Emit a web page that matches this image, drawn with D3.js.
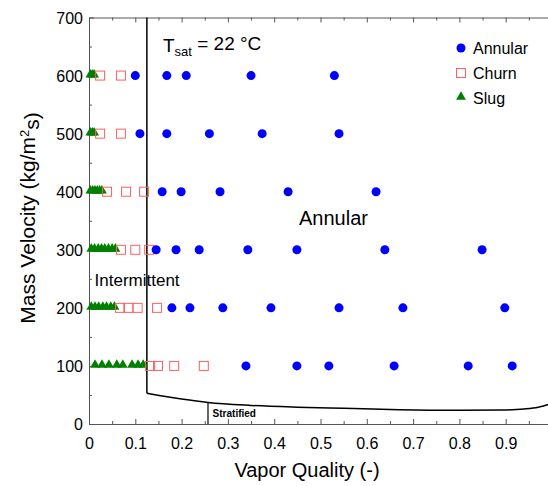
<!DOCTYPE html>
<html>
<head>
<meta charset="utf-8">
<script src="https://cdn.jsdelivr.net/npm/d3@7"></script>
<style>
  body { margin: 0; background: #fff; }
  svg { font-family: "Liberation Sans", Arial, sans-serif; }
</style>
</head>
<body>
<div id="chart"></div>
<script>
// flow regime data: [vapor quality, mass velocity]
var annular = [
  [0.10, 600], [0.168, 600], [0.21, 600], [0.35, 600], [0.53, 600],
  [0.11, 500], [0.168, 500], [0.26, 500], [0.374, 500], [0.54, 500],
  [0.158, 400], [0.199, 400], [0.283, 400], [0.43, 400], [0.62, 400],
  [0.145, 300], [0.188, 300], [0.238, 300], [0.343, 300], [0.449, 300], [0.639, 300], [0.849, 300],
  [0.179, 200], [0.218, 200], [0.289, 200], [0.393, 200], [0.54, 200], [0.678, 200], [0.898, 200],
  [0.339, 100], [0.449, 100], [0.518, 100], [0.659, 100], [0.819, 100], [0.914, 100]
];
var churn = [
  [0.024, 600], [0.069, 600],
  [0.024, 500], [0.069, 500],
  [0.039, 400], [0.08, 400], [0.119, 400],
  [0.069, 300], [0.10, 300], [0.13, 300],
  [0.067, 200], [0.085, 200], [0.105, 200], [0.147, 200],
  [0.132, 100], [0.149, 100], [0.184, 100], [0.248, 100]
];
var slug = [
  [0.003, 600], [0.007, 600], [0.011, 600],
  [0.003, 500], [0.007, 500], [0.011, 500],
  [0.003, 400], [0.008, 400], [0.013, 400], [0.018, 400], [0.023, 400], [0.028, 400],
  [0.005, 300], [0.012, 300], [0.02, 300], [0.027, 300], [0.034, 300], [0.042, 300], [0.05, 300], [0.057, 300],
  [0.005, 200], [0.013, 200], [0.021, 200], [0.03, 200], [0.038, 200], [0.047, 200], [0.055, 200],
  [0.013, 100], [0.028, 100], [0.043, 100], [0.060, 100], [0.073, 100], [0.093, 100], [0.106, 100], [0.117, 100]
];
// transition boundaries
var intermittentLine = [[0.125, 700], [0.125, 53]];
var stratifiedCurve = [
  [0.125, 53], [0.2, 43], [0.257, 37], [0.35, 32], [0.45, 29], [0.55, 27],
  [0.67, 24.5], [0.8, 23.5], [0.89, 24], [0.94, 26], [0.97, 29], [0.99, 33], [1.0, 36]
];
var stratifiedLine = [[0.257, 37], [0.257, 0]];
var xTicks = [0, 0.1, 0.2, 0.3, 0.4, 0.5, 0.6, 0.7, 0.8, 0.9];
var yTicks = [0, 100, 200, 300, 400, 500, 600, 700];
var legendItems = ["Annular", "Churn", "Slug"];

var width = 548, height = 486;
var margin = {left: 89, top: 17.5, bottom: 62};

var svg = d3.select("#chart").append("svg")
    .attr("width", width)
    .attr("height", height);

var x = d3.scaleLinear().domain([0, 1]).range([margin.left, margin.left + 463]);
var y = d3.scaleLinear().domain([0, 700]).range([height - margin.bottom, margin.top]);

var axisColor = "#555";

// minor ticks
var xMinor = d3.range(0.05, 1.0, 0.1);
var yMinor = d3.range(50, 700, 100);

function drawAxis(g) {
    g.selectAll("path").attr("stroke", axisColor);
    g.selectAll("line").attr("stroke", axisColor);
    g.selectAll("text").attr("fill", "#000").style("font-size", "16px");
}

// bottom
svg.append("g")
    .attr("transform", "translate(0," + y(0) + ")")
    .call(d3.axisBottom(x).tickValues(xTicks).tickSizeInner(-5).tickSizeOuter(0).tickPadding(14)
        .tickFormat(function(d) { return d === 0 ? "0" : d3.format(".1f")(d); }))
    .call(drawAxis);
svg.append("g")
    .attr("transform", "translate(0," + y(0) + ")")
    .call(d3.axisBottom(x).tickValues(xMinor).tickSize(-3).tickFormat(""))
    .call(function(g) { g.select(".domain").remove(); })
    .call(drawAxis);
// top
svg.append("g")
    .attr("transform", "translate(0," + y(700) + ")")
    .call(d3.axisTop(x).tickValues(xTicks).tickSizeInner(-5).tickSizeOuter(0).tickFormat(""))
    .call(drawAxis);
svg.append("g")
    .attr("transform", "translate(0," + y(700) + ")")
    .call(d3.axisTop(x).tickValues(xMinor).tickSize(-3).tickFormat(""))
    .call(function(g) { g.select(".domain").remove(); })
    .call(drawAxis);
// left
svg.append("g")
    .attr("transform", "translate(" + x(0) + ",0)")
    .call(d3.axisLeft(y).tickValues(yTicks).tickSizeInner(-5).tickSizeOuter(0).tickPadding(6))
    .call(drawAxis)
    .call(function(g) { g.selectAll("text").attr("dy", "0.36em"); });
svg.append("g")
    .attr("transform", "translate(" + x(0) + ",0)")
    .call(d3.axisLeft(y).tickValues(yMinor).tickSize(-3).tickFormat(""))
    .call(function(g) { g.select(".domain").remove(); })
    .call(drawAxis);

// axis titles
svg.append("text")
    .attr("x", 307).attr("y", 477)
    .attr("text-anchor", "middle")
    .style("font-size", "20px")
    .text("Vapor Quality (-)");

var yl = svg.append("text")
    .attr("transform", "translate(35," + 218 + ") rotate(-90)")
    .attr("text-anchor", "middle")
    .style("font-size", "21px");
yl.append("tspan").text("Mass Velocity (kg/m");
yl.append("tspan").attr("dy", "-0.5em").style("font-size", "13px").text("2");
yl.append("tspan").attr("dy", "0.5em").text("s)");

// boundaries
var line = d3.line().x(function(d) { return x(d[0]); }).y(function(d) { return y(d[1]); });
var curve = d3.line().x(function(d) { return x(d[0]); }).y(function(d) { return y(d[1]); }).curve(d3.curveMonotoneX);

svg.append("path").datum(intermittentLine).attr("d", line)
    .attr("fill", "none").attr("stroke", "#000").attr("stroke-width", 1.5);
svg.append("path").datum(stratifiedCurve).attr("d", curve)
    .attr("fill", "none").attr("stroke", "#000").attr("stroke-width", 1.5);
svg.append("path").datum(stratifiedLine).attr("d", line)
    .attr("fill", "none").attr("stroke", "#000").attr("stroke-width", 1.2);

// region labels
svg.append("text").attr("x", x(0.267)).attr("y", y(12))
    .style("font-size", "10px").style("font-weight", "bold").text("Stratified");
svg.append("text").attr("x", x(0.528)).attr("y", y(343))
    .attr("text-anchor", "middle").style("font-size", "20px").text("Annular");
svg.append("text").attr("x", x(0.012)).attr("y", y(238))
    .style("font-size", "17px").text("Intermittent");
var ts = svg.append("text").attr("x", 163).attr("y", 52).style("font-size", "19px");
ts.append("tspan").text("T");
ts.append("tspan").attr("dy", "0.3em").style("font-size", "13px").text("sat");
ts.append("tspan").attr("dy", "-0.3em").text(" = 22 \u00B0C");

// markers
var blue = "#0000ff", red = "#ff6060", green = "#008000";
var marks = svg.append("g");

marks.selectAll(".slug").data(slug).enter().append("path")
    .attr("class", "slug")
    .attr("d", d3.symbol().type(d3.symbolTriangle).size(42))
    .attr("transform", function(d) { return "translate(" + x(d[0]) + "," + (y(d[1]) - 1) + ")"; })
    .attr("fill", green);

marks.selectAll(".churn").data(churn).enter().append("rect")
    .attr("class", "churn")
    .attr("x", function(d) { return x(d[0]) - 4.5; })
    .attr("y", function(d) { return y(d[1]) - 4.5; })
    .attr("width", 9).attr("height", 9)
    .attr("fill", "none").attr("stroke", red).attr("stroke-width", 1);

marks.selectAll(".annular").data(annular).enter().append("circle")
    .attr("class", "annular")
    .attr("cx", function(d) { return x(d[0]); })
    .attr("cy", function(d) { return y(d[1]); })
    .attr("r", 4.5)
    .attr("fill", blue);

// legend
var legend = svg.append("g");
legendItems.forEach(function(name, i) {
    var ly = 48 + i * 25;
    if (name === "Annular") {
        legend.append("circle").attr("cx", 461).attr("cy", ly).attr("r", 4.5).attr("fill", blue);
    } else if (name === "Churn") {
        legend.append("rect").attr("x", 456.5).attr("y", ly - 4.5).attr("width", 9).attr("height", 9)
            .attr("fill", "none").attr("stroke", red);
    } else {
        legend.append("path").attr("d", d3.symbol().type(d3.symbolTriangle).size(42))
            .attr("transform", "translate(461," + (ly - 1) + ")").attr("fill", green);
    }
    legend.append("text").attr("x", 473).attr("y", ly + 5.5).style("font-size", "16px").text(name);
});
</script>
</body>
</html>
